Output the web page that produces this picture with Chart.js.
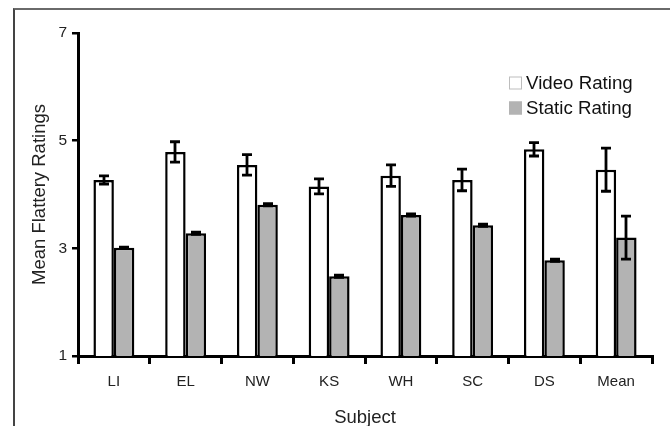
<!DOCTYPE html>
<html>
<head>
<meta charset="utf-8">
<script src="https://cdn.jsdelivr.net/npm/chart.js@4/dist/chart.umd.min.js"></script>
<style>
  html, body { margin: 0; padding: 0; background: #fff; }
  #wrap { position: relative; width: 670px; height: 426px; overflow: hidden; }
  #frame { position: absolute; left: 13px; top: 8px; right: 0; bottom: 0;
           border-top: 2px solid #6a6a6a; border-left: 2px solid #444; }
  canvas { position: absolute; left: 0; top: 0; }
</style>
</head>
<body>
<div id="wrap">
  <div id="frame"></div>
  <canvas id="c" width="670" height="426"></canvas>
</div>
<script>
const categories = ['LI', 'EL', 'NW', 'KS', 'WH', 'SC', 'DS', 'Mean'];
const videoRating = [4.27, 4.79, 4.55, 4.15, 4.35, 4.27, 4.84, 4.46];
const videoError  = [0.075, 0.19, 0.19, 0.14, 0.2, 0.2, 0.125, 0.4];
const staticRating = [3.01, 3.28, 3.81, 2.48, 3.62, 3.43, 2.78, 3.20];
const staticError  = [0.01, 0.02, 0.02, 0.02, 0.02, 0.02, 0.02, 0.4];
const yTicks = [1, 3, 5, 7];
const seriesLabels = ['Video Rating', 'Static Rating'];

const FONT = "'Liberation Sans', Arial, sans-serif";

const errorBars = {
  id: 'errorBars',
  afterDatasetsDraw(chart) {
    const ctx = chart.ctx;
    const y = chart.scales.y;
    const errs = [videoError, staticError];
    chart.data.datasets.forEach((ds, di) => {
      const meta = chart.getDatasetMeta(di);
      meta.data.forEach((bar, i) => {
        const v = ds.data[i], e = errs[di][i];
        const top = y.getPixelForValue(v + e);
        const bot = y.getPixelForValue(v - e);
        const cx = Math.round(bar.x);
        const half = 5;
        ctx.save();
        ctx.strokeStyle = '#000';
        ctx.lineWidth = 2.8;
        ctx.beginPath();
        ctx.moveTo(cx, top); ctx.lineTo(cx, bot);
        ctx.moveTo(cx - half, top); ctx.lineTo(cx + half, top);
        ctx.moveTo(cx - half, bot); ctx.lineTo(cx + half, bot);
        ctx.stroke();
        ctx.restore();
      });
    });
  }
};

const customLegend = {
  id: 'customLegend',
  afterDraw(chart) {
    const ctx = chart.ctx;
    const items = [
      { fill: '#ffffff', stroke: '#bdbdbd', y: 83 },
      { fill: '#b3b3b3', stroke: '#b3b3b3', y: 108 }
    ];
    ctx.save();
    ctx.font = '18.7px ' + FONT;
    ctx.textBaseline = 'middle';
    ctx.textAlign = 'left';
    items.forEach((it, i) => {
      ctx.fillStyle = it.fill;
      ctx.fillRect(509, it.y - 6.5, 13, 13);
      ctx.strokeStyle = it.stroke;
      ctx.lineWidth = 1;
      ctx.strokeRect(509.5, it.y - 6, 12, 12);
      ctx.fillStyle = '#111';
      ctx.fillText(seriesLabels[i], 526, it.y + 1);
    });
    ctx.restore();
  }
};

new Chart(document.getElementById('c'), {
  type: 'bar',
  data: {
    labels: categories,
    datasets: [
      { label: seriesLabels[0], data: videoRating, backgroundColor: '#ffffff',
        borderColor: '#000', borderWidth: 2.5, borderSkipped: 'bottom' },
      { label: seriesLabels[1], data: staticRating, backgroundColor: '#b3b3b3',
        borderColor: '#000', borderWidth: 2.5, borderSkipped: 'bottom' }
    ]
  },
  options: {
    responsive: false,
    animation: false,
    devicePixelRatio: 1,
    layout: { padding: { top: 33, right: 18, left: 0, bottom: 0 } },
    datasets: { bar: { categoryPercentage: 0.57, barPercentage: 1.0 } },
    plugins: { legend: { display: false }, tooltip: { enabled: false } },
    scales: {
      x: {
        grid: { display: true, drawOnChartArea: false, offset: true,
                color: '#000', lineWidth: 3, tickLength: 8 },
        border: { display: true, color: '#000', width: 3 },
        ticks: { color: '#222', font: { family: FONT, size: 15 }, padding: 9 },
        title: { display: true, text: 'Subject', color: '#222',
                 font: { family: FONT, size: 18.5 }, padding: { top: 0, bottom: -3 } },
        afterFit(s) { s.height = 70; }
      },
      y: {
        min: 1, max: 7,
        afterBuildTicks(s) { s.ticks = yTicks.map(v => ({ value: v })); },
        grid: { display: true, drawOnChartArea: false, color: '#000', lineWidth: 2.5, tickLength: 6 },
        border: { display: true, color: '#000', width: 3 },
        ticks: { color: '#222', font: { family: FONT, size: 15.5 }, padding: 5 },
        title: { display: true, text: 'Mean Flattery Ratings', color: '#222',
                 font: { family: FONT, size: 18.5 }, padding: { top: 29, bottom: 0 } },
        afterFit(s) { s.width = 78; }
      }
    }
  },
  plugins: [errorBars, customLegend]
});
</script>
</body>
</html>
